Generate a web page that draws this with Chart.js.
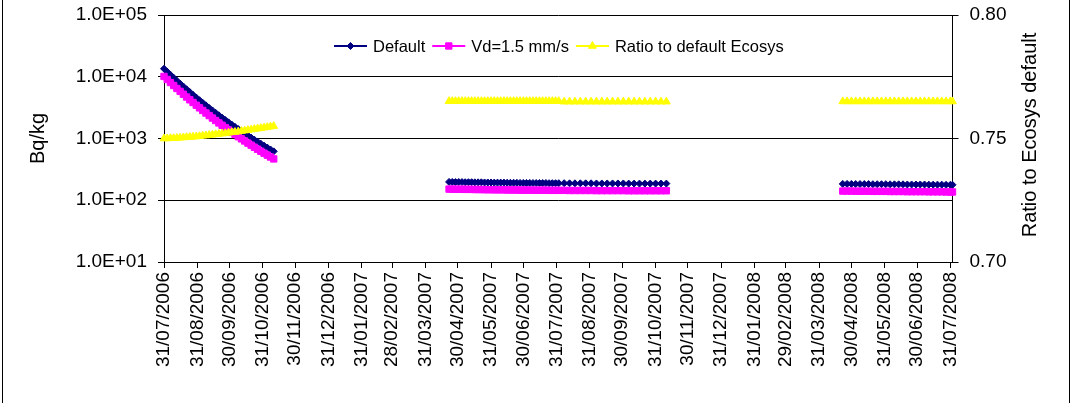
<!DOCTYPE html>
<html>
<head>
<meta charset="utf-8">
<title>Bq/kg</title>
<script src="https://cdn.jsdelivr.net/npm/chart.js@4.4.1/dist/chart.umd.min.js"></script>
<style>
  html, body { margin: 0; padding: 0; background: #fff; overflow: hidden; }
  #frame { position: absolute; left: 2px; top: -4px; width: 1066px; height: 420px; border: 1px solid #000; }
  #wrap { position: absolute; left: 0; top: 0; width: 1074px; height: 403px; }
</style>
</head>
<body>
<div id="frame"></div>
<div id="wrap"><canvas id="chart"></canvas></div>
<script>
'use strict';

// ---- data: one block per growing season ----
const dates2006 = ['31/07/2006','03/08/2006','06/08/2006','09/08/2006','12/08/2006','15/08/2006','18/08/2006','21/08/2006','24/08/2006','27/08/2006','30/08/2006','02/09/2006','05/09/2006','08/09/2006','11/09/2006','14/09/2006','17/09/2006','20/09/2006','23/09/2006','26/09/2006','29/09/2006','02/10/2006','05/10/2006','08/10/2006','11/10/2006','14/10/2006','17/10/2006','20/10/2006','23/10/2006','26/10/2006','29/10/2006','01/11/2006','04/11/2006','07/11/2006','10/11/2006'];
const default2006 = [13490,12030,10740,9608,8606,7724,6945,6254,5640,5093,4607,4173,3786,3440,3129,2851,2602,2377,2174,1992,1827,1678,1543,1421,1310,1209,1117,1034,957,888,824,766,713,664,619];
const vd2006 = [10120,9023,8056,7207,6456,5795,5212,4694,4233,3823,3459,3134,2844,2584,2351,2143,1956,1787,1635,1498,1374,1263,1161,1070,986,911,842,779,721,670,621,578,538,501,467];
const ratio2006 = [0.7500,0.7500,0.7501,0.7501,0.7502,0.7503,0.7504,0.7505,0.7506,0.7507,0.7508,0.7509,0.7511,0.7512,0.7514,0.7515,0.7517,0.7518,0.7520,0.7521,0.7523,0.7525,0.7526,0.7528,0.7530,0.7532,0.7534,0.7536,0.7538,0.7540,0.7542,0.7544,0.7546,0.7548,0.7550];

const dates2007 = ['22/04/2007','25/04/2007','28/04/2007','01/05/2007','04/05/2007','07/05/2007','10/05/2007','13/05/2007','16/05/2007','19/05/2007','22/05/2007','25/05/2007','28/05/2007','31/05/2007','03/06/2007','06/06/2007','09/06/2007','12/06/2007','15/06/2007','18/06/2007','21/06/2007','24/06/2007','27/06/2007','30/06/2007','03/07/2007','06/07/2007','09/07/2007','12/07/2007','15/07/2007','18/07/2007','21/07/2007','24/07/2007','27/07/2007','30/07/2007','02/08/2007',
  '07/08/2007','12/08/2007','17/08/2007','22/08/2007','27/08/2007','01/09/2007','06/09/2007','11/09/2007','16/09/2007','21/09/2007','26/09/2007','01/10/2007','06/10/2007','11/10/2007','16/10/2007','21/10/2007','26/10/2007','31/10/2007','05/11/2007','10/11/2007'];
const default2007 = [198,198,197,197,197,196,196,196,195,195,195,194,194,194,193,193,193,193,192,192,192,192,191,191,191,191,190,190,190,190,190,189,189,189,189,
  189,188,188,188,188,188,187,187,187,187,187,187,186,186,186,186,186,186,186,186];
const vd2007 = [151.5,151.5,150.7,150.7,150.7,150.0,150.0,150.0,149.2,149.2,149.2,148.4,148.4,148.4,147.7,147.7,147.7,147.7,146.9,146.9,146.9,146.9,146.1,146.1,146.1,146.1,145.4,145.4,145.4,145.4,145.4,144.6,144.6,144.6,144.6,
  144.6,143.8,143.8,143.8,143.8,143.8,143.0,143.0,143.0,143.0,143.0,143.0,142.3,142.3,142.3,142.3,142.3,142.3,142.3,142.3];
const ratio2007 = [0.7651,0.7651,0.7651,0.7651,0.7651,0.7651,0.7651,0.7651,0.7651,0.7651,0.7651,0.7651,0.7651,0.7651,0.7651,0.7651,0.7651,0.7651,0.7651,0.7651,0.7651,0.7651,0.7651,0.7651,0.7651,0.7651,0.7651,0.7651,0.7651,0.7651,0.7651,0.7651,0.7651,0.7651,0.7651,
  0.7649,0.7649,0.7649,0.7649,0.7649,0.7649,0.7649,0.7649,0.7649,0.7649,0.7649,0.7649,0.7649,0.7649,0.7649,0.7649,0.7649,0.7649,0.7649,0.7649];

const dates2008 = ['22/04/2008','26/04/2008','30/04/2008','04/05/2008','08/05/2008','12/05/2008','16/05/2008','20/05/2008','24/05/2008','28/05/2008','01/06/2008','05/06/2008','09/06/2008','13/06/2008','17/06/2008','21/06/2008','25/06/2008','29/06/2008','03/07/2008','07/07/2008','11/07/2008','15/07/2008','19/07/2008','23/07/2008','27/07/2008','31/07/2008','02/08/2008'];
const default2008 = [184,184,184,183,183,183,183,182,182,182,182,181,181,181,181,180,180,180,180,180,179,179,179,179,178,178,178];
const vd2008 = [140.8,140.8,140.8,140.0,140.0,140.0,140.0,139.2,139.2,139.2,139.2,138.5,138.5,138.5,138.5,137.7,137.7,137.7,137.7,137.7,136.9,136.9,136.9,136.9,136.2,136.2,136.2];
const ratio2008 = [0.7650,0.7650,0.7650,0.7650,0.7650,0.7650,0.7650,0.7650,0.7650,0.7650,0.7650,0.7650,0.7650,0.7650,0.7650,0.7650,0.7650,0.7650,0.7650,0.7650,0.7650,0.7650,0.7650,0.7650,0.7650,0.7650,0.7650];

// ---- axis ticks ----
const monthTicks = ['31/07/2006','31/08/2006','30/09/2006','31/10/2006','30/11/2006','31/12/2006','31/01/2007','28/02/2007','31/03/2007','30/04/2007','31/05/2007','30/06/2007','31/07/2007','31/08/2007','30/09/2007','31/10/2007','30/11/2007','31/12/2007','31/01/2008','29/02/2008','31/03/2008','30/04/2008','31/05/2008','30/06/2008','31/07/2008'];
const axisEnd = '02/08/2008';
const bqTicks = [10, 100, 1000, 10000, 100000];
const ratioTicks = [0.70, 0.75, 0.80];

// ---- helpers ----
const FONT = "Arial, 'Liberation Sans', sans-serif";
const toDay = (s) => { const [d, m, y] = s.split('/').map(Number); return Date.UTC(y, m - 1, d) / 86400000; };
const dayLabel = {};
monthTicks.forEach(s => { dayLabel[toDay(s)] = s; });
const sci = (v) => {
  const e = Math.round(Math.log10(v));
  return '1.0E' + (e < 0 ? '-' : '+') + String(Math.abs(e)).padStart(2, '0');
};

function series(v2006, v2007, v2008) {
  const pts = [];
  [[dates2006, v2006], [dates2007, v2007], [dates2008, v2008]].forEach(([ds, vs], i) => {
    if (i) pts.push({ x: toDay(ds[0]) - 1, y: null }); // break the line between seasons
    ds.forEach((d, j) => pts.push({ x: toDay(d), y: vs[j] }));
  });
  return pts;
}

function line(label, values, color, style, radius, axis, order) {
  return {
    label, data: values, yAxisID: axis, order,
    borderColor: color, backgroundColor: color, borderWidth: 2,
    pointStyle: style, pointRadius: radius, pointBorderWidth: 1,
    pointBackgroundColor: color, pointBorderColor: color,
    tension: 0, spanGaps: false, clip: false
  };
}

// vertical axes: no extra room for half labels, the plot top is set by layout padding
const noPad = (s) => { s.paddingTop = 0; s.paddingBottom = 0; };

// legend with line + marker samples, sitting inside the plot
const insideLegend = {
  id: 'insideLegend',
  afterDraw(chart) {
    const { ctx } = chart;
    ctx.save();
    ctx.font = `16.5px ${FONT}`;
    ctx.textBaseline = 'middle';
    let x = 334;
    const y = 46;
    chart.data.datasets.forEach(ds => {
      ctx.strokeStyle = ds.borderColor; ctx.lineWidth = 2;
      ctx.beginPath(); ctx.moveTo(x, y); ctx.lineTo(x + 33, y); ctx.stroke();
      ctx.fillStyle = ds.pointBackgroundColor; ctx.strokeStyle = ds.pointBorderColor; ctx.lineWidth = 1;
      Chart.helpers.drawPoint(ctx, { pointStyle: ds.pointStyle, radius: ds.pointRadius, borderWidth: 1, rotation: 0 }, x + 16.5, y);
      ctx.fillStyle = '#000';
      ctx.fillText(ds.label, x + 39, y + 1);
      x += 39 + ctx.measureText(ds.label).width + 7;
    });
    ctx.restore();
  }
};

// right axis title reads bottom-to-top
const rightTitle = {
  id: 'rightTitle',
  afterDraw(chart) {
    const { ctx } = chart;
    ctx.save();
    ctx.font = `20px ${FONT}`;
    ctx.fillStyle = '#000';
    ctx.textAlign = 'center';
    ctx.textBaseline = 'middle';
    ctx.translate(1030, 135);
    ctx.rotate(-Math.PI / 2);
    ctx.fillText('Ratio to Ecosys default', 0, 0);
    ctx.restore();
  }
};

const tickFont = { family: FONT, size: 19 };

new Chart(document.getElementById('chart'), {
  type: 'line',
  data: {
    datasets: [
      line('Default', series(default2006, default2007, default2008), '#000080', 'rectRot', 3.5, 'y', 3),
      line('Vd=1.5 mm/s', series(vd2006, vd2007, vd2008), '#FF00FF', 'rect', 4.5, 'y', 2),
      line('Ratio to default Ecosys', series(ratio2006, ratio2007, ratio2008), '#FFFF00', 'triangle', 4.5, 'y1', 1)
    ]
  },
  options: {
    responsive: true,
    maintainAspectRatio: false,
    animation: false,
    devicePixelRatio: 1,
    layout: { padding: { top: 15, left: 0, right: 0, bottom: 0 } },
    plugins: { legend: { display: false }, tooltip: { enabled: false } },
    scales: {
      x: {
        type: 'linear',
        min: toDay(monthTicks[0]),
        max: toDay(axisEnd),
        afterBuildTicks: (s) => { s.ticks = monthTicks.map(t => ({ value: toDay(t) })); },
        afterFit: (s) => { s.height = 141; },
        ticks: {
          autoSkip: false, minRotation: 90, maxRotation: 90, padding: 4,
          color: '#000', font: tickFont,
          callback: (v) => dayLabel[v] || ''
        },
        grid: { drawOnChartArea: false, tickLength: 6, color: '#000' },
        border: { color: '#000', width: 1 }
      },
      y: {
        type: 'logarithmic',
        position: 'left',
        min: bqTicks[0],
        max: bqTicks[bqTicks.length - 1],
        afterBuildTicks: (s) => { s.ticks = bqTicks.map(v => ({ value: v })); },
        afterFit: (s) => { s.width = 164; noPad(s); },
        ticks: { padding: 11, color: '#000', font: tickFont, callback: (v) => sci(v) },
        grid: { color: '#000', lineWidth: 1, tickLength: 6 },
        border: { color: '#000', width: 1 },
        title: { display: true, text: 'Bq/kg', color: '#000', font: { family: FONT, size: 20 }, padding: { top: 26, bottom: 0 } }
      },
      y1: {
        type: 'linear',
        position: 'right',
        min: ratioTicks[0],
        max: ratioTicks[ratioTicks.length - 1],
        afterBuildTicks: (s) => { s.ticks = ratioTicks.map(v => ({ value: v })); },
        afterFit: (s) => { s.width = 121.5; noPad(s); },
        ticks: { padding: 11, color: '#000', font: tickFont, callback: (v) => v.toFixed(2) },
        grid: { drawOnChartArea: false, tickLength: 6, color: '#000' },
        border: { color: '#000', width: 1 }
      }
    }
  },
  plugins: [insideLegend, rightTitle]
});
</script>
</body>
</html>
